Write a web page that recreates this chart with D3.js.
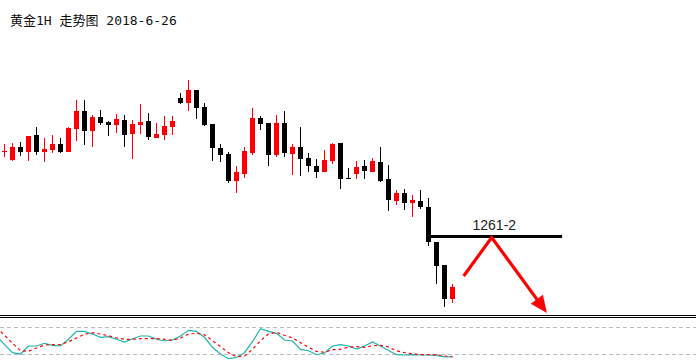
<!DOCTYPE html>
<html>
<head>
<meta charset="utf-8">
<script src="https://cdn.jsdelivr.net/npm/d3@7"></script>
<style>
  html, body { margin: 0; padding: 0; background: #fff; }
  svg { display: block; }
</style>
</head>
<body>
<main></main>
<script>
const title = '黄金1H 走势图 2018-6-26';

// hourly candles, left to right
const open  = [1269.72,1268.88,1270.15,1269.68,1271.35,1269.68,1269.85,1270.45,1269.68,1271.98,
               1273.75,1271.78,1273.15,1272.65,1272.38,1272.85,1271.48,1272.38,1272.75,1271.08,
               1271.38,1272.18,1275.05,1274.58,1275.85,1274.15,1272.45,1270.05,1269.48,1266.78,
               1267.48,1269.58,1273.05,1272.55,1269.38,1272.55,1269.48,1270.15,1269.05,1268.25,
               1267.68,1268.78,1270.55,1267.02,1267.48,1268.25,1267.68,1268.62,1266.95,1264.78,
               1265.58,1264.58,1264.78,1264.15,1260.65,1258.35,1254.98];
const high  = [1270.45,1270.55,1270.65,1271.25,1272.15,1271.05,1271.35,1271.05,1272.15,1274.85,
               1274.85,1273.35,1273.85,1272.75,1273.45,1273.35,1272.85,1274.48,1273.55,1272.55,
               1273.25,1273.25,1275.55,1276.85,1275.85,1274.55,1272.45,1270.45,1269.68,1268.22,
               1270.15,1274.05,1273.25,1272.55,1273.35,1273.75,1270.45,1272.15,1269.55,1268.95,
               1269.85,1270.55,1270.55,1268.02,1268.72,1268.85,1269.05,1270.15,1268.38,1265.82,
               1265.92,1265.38,1265.82,1265.02,1260.65,1258.35,1256.42];
const low   = [1269.15,1268.78,1269.28,1268.78,1269.38,1268.68,1269.58,1269.58,1269.68,1270.78,
               1270.38,1270.18,1272.38,1271.28,1271.58,1270.18,1268.98,1271.48,1270.88,1271.08,
               1270.88,1271.38,1274.48,1273.78,1272.98,1272.28,1268.78,1268.68,1266.58,1265.58,
               1267.08,1269.38,1271.88,1268.28,1269.18,1269.18,1267.38,1267.28,1267.68,1267.08,
               1267.68,1268.48,1265.98,1266.98,1266.98,1266.98,1267.68,1266.68,1263.78,1264.38,
               1263.88,1263.18,1263.98,1260.28,1256.48,1254.18,1254.58];
const close = [1269.78,1270.15,1269.68,1271.25,1269.68,1269.95,1270.45,1269.65,1272.05,1273.75,
               1271.78,1273.15,1272.58,1272.38,1272.95,1271.38,1272.45,1272.65,1271.18,1271.45,
               1272.25,1272.75,1274.58,1275.85,1274.08,1272.38,1270.08,1269.38,1266.78,1267.68,
               1269.75,1273.05,1272.48,1269.38,1272.55,1269.58,1270.15,1268.98,1268.28,1267.68,
               1268.85,1270.45,1266.98,1266.98,1268.12,1267.78,1268.75,1266.78,1264.88,1265.58,
               1264.58,1264.88,1264.18,1260.68,1258.28,1254.98,1256.12];

// oscillator, first value belongs to the bar just before the first candle
const kLine = [60,40.7,22.9,20,37.8,37.8,43.8,39.3,37.8,52.7,70.4,70.4,64.4,57.1,58.4,52.7,46.7,54,60,60,
               52.7,48.9,51.1,60,72.7,70.4,57.1,34.9,20,9.6,12.2,22.9,47.3,76.2,70.4,66,51.1,48.9,30.4,27.3,
               18.4,22.2,37.8,40.7,37.8,31.1,37.8,46.7,37.8,27.8,18.4,17.8,18.4,17.8,17.8,17.1,13.3,14];
const dLine = [79,61.6,43.8,27.3,26,33.3,40,40.7,40.7,47.3,55.6,63.8,67.3,64.4,60.7,55.6,52.7,52.7,54,54,
               54,52.7,50.4,55.6,64.4,66,62.9,49.6,36.2,22.9,14,15.6,30.4,49.6,64.4,68.2,61.6,55.6,45.1,34.9,
               26,23.8,29.6,30.4,35.6,36.2,34.9,38.4,39.3,35.6,27.3,22.9,20,18.4,18.4,18.4,15.6,14];
const oscLevels = [80, 20];

// resistance line and projected path
const levelPrice = 1261.2;
const levelLabel = '1261-2';
const levelFrom = 53;
const levelTo = 69.7;
const arrowIdx = [57.4, 60.9, 67.8];
const arrowPrice = [1257.25, 1261.1, 1253.55];

const w = 696;
const h = 363;
const svg = d3.select('main').append('svg').attr('width', w).attr('height', h);

const x = d3.scaleLinear().domain([0, 56]).range([4.5, 452.5]);
const y = d3.scaleLinear().domain([1253, 1285]).range([318.5, -1.5]);
const yo = d3.scaleLinear().domain([0, 100]).range([363, 318]);

const candles = open.map((o, i) => ({ i, o, h: high[i], l: low[i], c: close[i] }));
const col = d => d.c >= d.o ? '#ff0000' : '#000000';

svg.append('text')
    .attr('x', 10)
    .attr('y', 25)
    .attr('font-family', '"DejaVu Sans Mono", "Noto Sans CJK SC", monospace')
    .attr('font-size', 13)
    .attr('fill', '#111')
    .text(title);

const candle = svg.append('g').attr('shape-rendering', 'crispEdges')
    .selectAll('g')
    .data(candles)
    .enter()
    .append('g');
candle.append('line')
    .attr('x1', d => x(d.i))
    .attr('x2', d => x(d.i))
    .attr('y1', d => y(d.h))
    .attr('y2', d => y(d.l))
    .attr('stroke', col)
    .attr('stroke-width', 1);
candle.append('rect')
    .attr('x', d => x(d.i) - 2.5)
    .attr('width', 5)
    .attr('y', d => y(Math.max(d.o, d.c)))
    .attr('height', d => Math.max(1, y(Math.min(d.o, d.c)) - y(Math.max(d.o, d.c))))
    .attr('fill', col);

// level line
svg.append('line')
    .attr('x1', x(levelFrom))
    .attr('x2', x(levelTo))
    .attr('y1', y(levelPrice))
    .attr('y2', y(levelPrice))
    .attr('stroke', '#000')
    .attr('stroke-width', 3);
svg.append('text')
    .attr('x', x((levelFrom + levelTo) / 2) - 1)
    .attr('y', y(levelPrice) - 7)
    .attr('text-anchor', 'middle')
    .attr('font-family', '"Liberation Sans", Arial, sans-serif')
    .attr('font-size', 14)
    .attr('fill', '#222')
    .text(levelLabel);

// arrow
const pts = arrowIdx.map((v, i) => [x(v), y(arrowPrice[i])]);
const tip = pts[2];
const prev = pts[1];
const len = Math.hypot(tip[0] - prev[0], tip[1] - prev[1]);
const ux = (tip[0] - prev[0]) / len;
const uy = (tip[1] - prev[1]) / len;
const headLen = 17;
const headW = 7.5;
const base = [tip[0] - ux * headLen, tip[1] - uy * headLen];
svg.append('path')
    .attr('d', d3.line()([pts[0], pts[1], [base[0] + ux * 2, base[1] + uy * 2]]))
    .attr('fill', 'none')
    .attr('stroke', '#ff0000')
    .attr('stroke-width', 3.2);
svg.append('path')
    .attr('d', d3.line()([tip, [base[0] - uy * headW, base[1] + ux * headW], [base[0] + uy * headW, base[1] - ux * headW]]) + 'Z')
    .attr('fill', '#ff0000');

// panel separator
[315.5, 317.5].forEach(v => {
    svg.append('line')
        .attr('x1', 0).attr('x2', w)
        .attr('y1', v).attr('y2', v)
        .attr('stroke', '#000')
        .attr('stroke-width', 1);
});

// oscillator
const osc = svg.append('g').attr('shape-rendering', 'crispEdges');
osc.selectAll('line.level')
    .data(oscLevels)
    .enter()
    .append('line')
    .attr('class', 'level')
    .attr('x1', 0).attr('x2', w)
    .attr('y1', d => Math.round(yo(d)) + 0.5)
    .attr('y2', d => Math.round(yo(d)) + 0.5)
    .attr('stroke', '#bdbdbd')
    .attr('stroke-width', 1.3)
    .attr('stroke-dasharray', '4,3');
const oscLine = d3.line().x((d, i) => x(i - 1)).y(d => yo(d));
svg.append('path')
    .attr('d', oscLine(kLine))
    .attr('fill', 'none')
    .attr('stroke', '#20b2aa')
    .attr('stroke-width', 1.2);
svg.append('path')
    .attr('d', oscLine(dLine))
    .attr('fill', 'none')
    .attr('stroke', '#ff0000')
    .attr('stroke-width', 1.2)
    .attr('stroke-dasharray', '3,3');
</script>
</body>
</html>
